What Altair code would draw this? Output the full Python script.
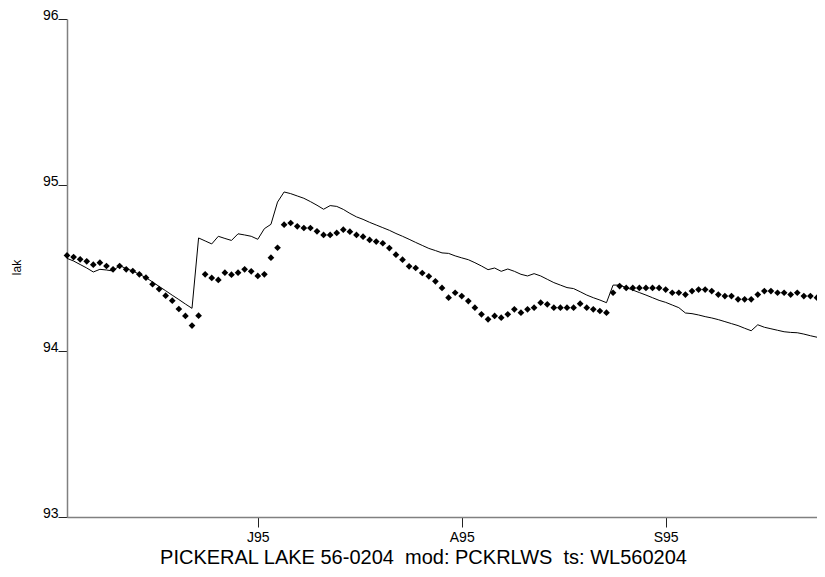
import altair as alt
import pandas as pd

# ---- data ----
start_date = "1995-06-02"
observed = [
    94.576, 94.566, 94.552, 94.540, 94.520, 94.532, 94.512, 94.492, 94.512, 94.492,
    94.482, 94.462, 94.442, 94.402, 94.373, 94.333, 94.303, 94.253, 94.211, 94.153,
    94.213, 94.462, 94.440, 94.428, 94.472, 94.460, 94.472, 94.492, 94.480, 94.452,
    94.462, 94.562, 94.622, 94.761, 94.771, 94.751, 94.741, 94.741, 94.721, 94.699,
    94.699, 94.711, 94.731, 94.719, 94.699, 94.689, 94.669, 94.659, 94.649, 94.620,
    94.580, 94.550, 94.510, 94.500, 94.470, 94.450, 94.420, 94.380, 94.321, 94.351,
    94.331, 94.301, 94.261, 94.221, 94.191, 94.211, 94.201, 94.221, 94.251, 94.231,
    94.251, 94.261, 94.291, 94.281, 94.261, 94.261, 94.261, 94.261, 94.285, 94.261,
    94.251, 94.241, 94.231, 94.351, 94.391, 94.380, 94.380, 94.380, 94.380, 94.380,
    94.380, 94.370, 94.351, 94.351, 94.340, 94.361, 94.370, 94.370, 94.361, 94.340,
    94.331, 94.331, 94.311, 94.311, 94.311, 94.340, 94.361, 94.361, 94.351, 94.351,
    94.340, 94.351, 94.331, 94.331, 94.321,
]
simulated = [
    94.558, 94.542, 94.521, 94.500, 94.476, 94.492, 94.488, 94.482, 94.515, 94.496,
    94.482, 94.462, 94.442, 94.416, 94.389, 94.363, 94.336, 94.310, 94.283, 94.257,
    94.681, 94.663, 94.645, 94.691, 94.678, 94.666, 94.706, 94.699, 94.691, 94.673,
    94.737, 94.763, 94.897, 94.958, 94.948, 94.934, 94.920, 94.900, 94.878, 94.854,
    94.876, 94.871, 94.853, 94.829, 94.808, 94.793, 94.775, 94.759, 94.743, 94.727,
    94.708, 94.691, 94.673, 94.654, 94.636, 94.618, 94.605, 94.591, 94.588, 94.573,
    94.561, 94.550, 94.532, 94.512, 94.490, 94.500, 94.480, 94.494, 94.480, 94.462,
    94.452, 94.466, 94.452, 94.432, 94.412, 94.397, 94.382, 94.376, 94.357, 94.337,
    94.321, 94.307, 94.291, 94.397, 94.397, 94.382, 94.367, 94.352, 94.337, 94.321,
    94.305, 94.293, 94.277, 94.261, 94.229, 94.225, 94.217, 94.207, 94.199, 94.189,
    94.177, 94.165, 94.153, 94.137, 94.122, 94.158, 94.143, 94.134, 94.125, 94.116,
    94.112, 94.110, 94.102, 94.092, 94.083,
]
y_ticks = [93, 94, 95, 96]
x_tick_months = [7, 8, 9]
x_tick_labels = ["J95", "A95", "S95"]
y_title = "lak"
chart_title = "PICKERAL LAKE 56-0204\u00a0 mod: PCKRLWS\u00a0 ts: WL560204"

dates = pd.date_range(start_date, periods=len(observed), freq="D").strftime("%Y-%m-%d")
df = pd.DataFrame({"date": dates, "obs": observed, "sim": simulated})

label_expr = " : ".join(
    f"utcmonth(datum.value) == {m - 1} ? '{lab}'" for m, lab in zip(x_tick_months, x_tick_labels)
) + " : ''"

FONT = "Liberation Sans"

x_enc = alt.X(
    "date:T",
    scale=alt.Scale(
        type="utc",
        domain=[alt.DateTime(year=1995, month=6, date=2, utc=True),
                alt.DateTime(year=1995, month=9, date=24, utc=True)],
    ),
    axis=alt.Axis(
        values=[alt.DateTime(year=1995, month=m, date=1, utc=True) for m in x_tick_months],
        labelExpr=label_expr,
        grid=False,
        domainColor="#808080",
        domainWidth=1.5,
        tickColor="#222222",
        tickSize=10,
        labelPadding=3,
        labelFontSize=14,
        labelFont=FONT,
        labelColor="#000000",
        title=chart_title,
        titleFont=FONT,
        titleFontSize=20,
        titleFontWeight="normal",
        titleColor="#000000",
        titleX=356,
        titleY=46,
        titleAlign="center",
        titleBaseline="alphabetic",
    ),
)

y_enc_axis = alt.Axis(
    values=y_ticks,
    format="d",
    grid=False,
    domainColor="#808080",
    domainWidth=1.5,
    tickColor="#222222",
    tickSize=9,
    labelPadding=0,
    labelBaseline="alphabetic",
    labelAlign="right",
    labelFontSize=14,
    labelFont=FONT,
    labelColor="#000000",
    title=y_title,
    titleFont=FONT,
    titleFontSize=12,
    titleFontWeight="normal",
    titleColor="#000000",
    titleX=-47,
    titleY=248,
    titleAngle=270,
    titleAlign="center",
    titleBaseline="alphabetic",
)

base = alt.Chart(df)

line = base.mark_line(color="#000000", strokeWidth=1).encode(
    x=x_enc,
    y=alt.Y("sim:Q", scale=alt.Scale(domain=[93, 96]), axis=y_enc_axis),
)

points = base.mark_point(shape="diamond", filled=True, color="#000000", size=45, opacity=1).encode(
    x=alt.X("date:T"),
    y=alt.Y("obs:Q"),
)

chart = (
    alt.layer(line, points)
    .properties(
        width=750,
        height=498,
        autosize=alt.AutoSizeParams(type="none"),
        padding={"left": 59, "top": 11, "right": 0, "bottom": 52},
        background="#ffffff",
    )
    .configure_view(stroke=None)
)

chart.save("out.html", embed_options={"renderer": "svg", "actions": False})
